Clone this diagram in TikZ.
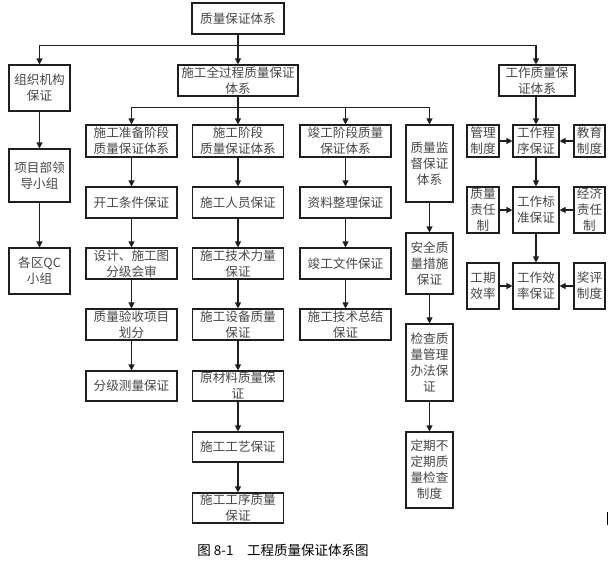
\documentclass[tikz,border=0pt]{standalone}
\usepackage{fontspec}
\setmainfont{Noto Sans CJK SC}
\usetikzlibrary{arrows.meta}
\definecolor{lineDark}{RGB}{30,30,30}
\definecolor{textGrey}{RGB}{70,70,70}

\begin{document}
\begin{tikzpicture}[x=1pt,y=-1pt,
    box/.style={draw=lineDark, line width=1.1pt, align=center, inner sep=0pt,
      text=textGrey, font=\fontsize{12.6}{16}\selectfont},
    wbox/.style={box, minimum width=91pt, minimum height=31pt},
    nbox/.style={box, minimum width=47pt},
    sbox/.style={box, minimum width=32pt},
    arr/.style={-{Triangle[length=6pt,width=6pt]}, line width=1.1pt, draw=lineDark}]
  \useasboundingbox (0,0) rectangle (616,563);

  % top levels
  \node[box, minimum width=92pt, minimum height=31pt] (top) at (238,18.5) {质量保证体系};
  \node[box, minimum width=61pt, minimum height=46pt] (org) at (39.5,88) {组织机构\\保证};
  \node[box, minimum width=120pt, minimum height=31pt] (whole) at (238,80.5) {施工全过程质量保证\\体系};
  \node[box, minimum width=76pt, minimum height=31pt] (work) at (537,80.5) {工作质量保\\证体系};

  % organisation column
  \node[box, minimum width=61pt, minimum height=53pt] (lead) at (39.5,175.5) {项目部领\\导小组};
  \node[box, minimum width=61pt, minimum height=46pt] (qc) at (39.5,271) {各区QC\\小组};

  % preparation column
  \node[wbox, minimum height=32pt] (prep) at (131.5,141) {施工准备阶段\\质量保证体系};
  \node[wbox] (start) at (131.5,202.5) {开工条件保证};
  \node[wbox] (design) at (131.5,263.5) {设计、施工图\\分级会审};
  \node[wbox] (accept) at (131.5,324.5) {质量验收项目\\划分};
  \node[wbox, minimum height=30pt] (survey) at (131.5,386) {分级测量保证};

  % construction column
  \node[wbox, minimum height=32pt] (build) at (238,141) {施工阶段\\质量保证体系};
  \node[wbox] (staff) at (238,202.5) {施工人员保证};
  \node[wbox] (tech) at (238,263.5) {施工技术力量\\保证};
  \node[wbox] (equip) at (238,324.5) {施工设备质量\\保证};
  \node[wbox, minimum height=30pt] (mat) at (238,386) {原材料质量保\\证};
  \node[wbox, minimum height=30pt] (craft) at (238,447) {施工工艺保证};
  \node[wbox, minimum height=30pt] (proc) at (238,508) {施工工序质量\\保证};

  % completion column
  \node[wbox, minimum height=32pt] (done) at (345.5,141) {竣工阶段质量\\保证体系};
  \node[wbox] (docs) at (345.5,202.5) {资料整理保证};
  \node[wbox] (files) at (345.5,263.5) {竣工文件保证};
  \node[wbox] (summ) at (345.5,324.5) {施工技术总结\\保证};

  % supervision column
  \node[nbox, minimum height=77pt] (sup) at (429.5,163.5) {质量监\\督保证\\体系};
  \node[nbox, minimum height=61pt] (safe) at (429.5,263.5) {安全质\\量措施\\保证};
  \node[nbox, minimum height=77pt] (check) at (429.5,362.5) {检查质\\量管理\\办法保\\证};
  \node[nbox, minimum height=76pt] (regular) at (429.5,470) {定期不\\定期质\\量检查\\制度};

  % work quality block
  \node[sbox, minimum height=32pt] (mgmt) at (483,141) {管理\\制度};
  \node[box, minimum width=46pt, minimum height=32pt] (wproc) at (536,141) {工作程\\序保证};
  \node[sbox, minimum width=31pt, minimum height=32pt] (edu) at (589.5,141) {教育\\制度};
  \node[sbox, minimum height=46pt] (resp) at (483,210) {质量\\责任\\制};
  \node[box, minimum width=46pt, minimum height=46pt] (wstd) at (536,210) {工作标\\准保证};
  \node[sbox, minimum width=31pt, minimum height=46pt] (econ) at (589.5,210) {经济\\责任\\制};
  \node[sbox, minimum height=46pt] (period) at (483,286) {工期\\效率};
  \node[box, minimum width=46pt, minimum height=46pt] (weff) at (536,286) {工作效\\率保证};
  \node[sbox, minimum width=31pt, minimum height=46pt] (award) at (589.5,286) {奖评\\制度};

  % connectors
  \draw[arr] (top) -- (whole);
  \draw[arr] (top.south) -- ++(0,11) -| (org);
  \draw[arr] (top.south) -- ++(0,11) -| (work.north -| wproc);
  \draw[arr] (whole) -- (build);
  \draw[arr] (whole.south) -- ++(0,11) -| (prep);
  \draw[arr] (whole.south) -- ++(0,11) -| (done);
  \draw[arr] (whole.south) -- ++(0,11) -| (sup);
  \draw[arr] (work.south -| wproc) -- (wproc);
  \foreach \a/\b in {org/lead, lead/qc, prep/start, start/design, design/accept, accept/survey,
      build/staff, staff/tech, tech/equip, equip/mat, mat/craft, craft/proc,
      done/docs, docs/files, files/summ, sup/safe, safe/check, check/regular,
      wproc/wstd, wstd/weff, mgmt/wproc, edu/wproc, resp/wstd, econ/wstd, period/weff, award/weff}
    \draw[arr] (\a) -- (\b);

  % caption
  \node[font=\fontsize{13.5}{15}\selectfont] (caption) at (283,550) {图 8-1\quad 工程质量保证体系图};
  \draw[line width=1pt] (607,512) -- (607,525);
\end{tikzpicture}
\end{document}
